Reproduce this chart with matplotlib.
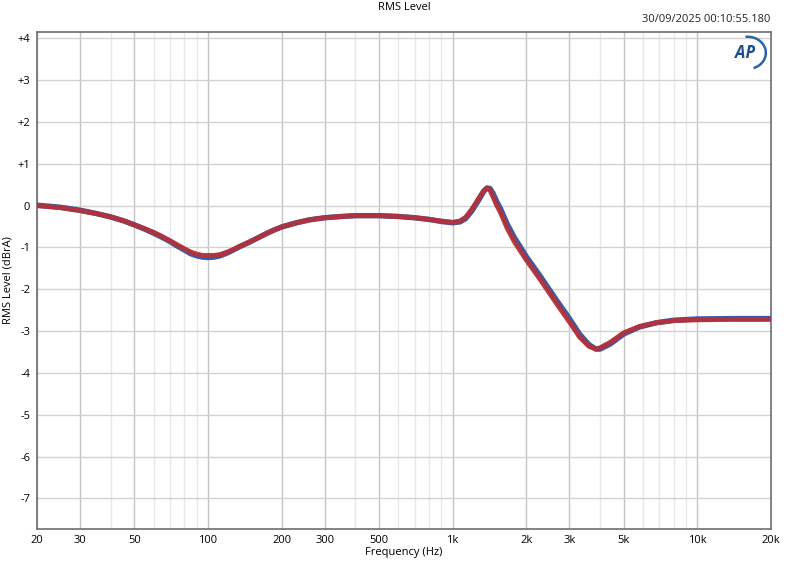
import matplotlib
matplotlib.use("Agg")
from matplotlib import pyplot as plt
from matplotlib.ticker import FixedLocator, NullFormatter
from matplotlib.patches import Arc

freq = [20, 25, 30, 35, 40, 45, 50, 55, 60, 65, 70, 75, 80, 85, 90, 95,
        100, 106, 112, 120, 127, 135, 148, 160, 173, 185, 200, 230, 260, 300,
        350, 400, 500, 600, 700, 800, 900, 1000, 1070, 1130, 1200, 1280,
        1340, 1380, 1420, 1460, 1510, 1570, 1670, 1790, 1900, 2000, 2140,
        2300, 2400, 2650, 3000, 3300, 3600, 3850, 4000, 4400, 5000, 5800,
        6800, 8000, 10000, 14000, 20000]

level_red = [0.00, -0.05, -0.12, -0.19, -0.27, -0.36, -0.46, -0.55, -0.64,
             -0.74, -0.84, -0.94, -1.03, -1.11, -1.16, -1.19, -1.19, -1.19,
             -1.17, -1.11, -1.05, -0.97, -0.87, -0.77, -0.67, -0.59, -0.51,
             -0.41, -0.34, -0.29, -0.26, -0.24, -0.24, -0.26, -0.29, -0.33,
             -0.37, -0.40, -0.37, -0.28, -0.08, 0.18, 0.36, 0.42, 0.37, 0.22,
             0.02, -0.17, -0.54, -0.87, -1.10, -1.30, -1.54, -1.80, -1.96,
             -2.33, -2.78, -3.14, -3.36, -3.43, -3.40, -3.27, -3.04, -2.89,
             -2.80, -2.75, -2.73, -2.72, -2.72]

level_blue = [0.01, -0.04, -0.11, -0.19, -0.27, -0.36, -0.46, -0.56, -0.66,
              -0.76, -0.86, -0.97, -1.06, -1.15, -1.20, -1.23, -1.24, -1.23,
              -1.20, -1.13, -1.06, -0.98, -0.87, -0.77, -0.67, -0.59, -0.51,
              -0.41, -0.34, -0.29, -0.26, -0.24, -0.24, -0.26, -0.29, -0.33,
              -0.38, -0.41, -0.39, -0.31, -0.12, 0.14, 0.34, 0.42, 0.41, 0.30,
              0.11, -0.08, -0.44, -0.77, -1.01, -1.22, -1.46, -1.72, -1.88,
              -2.25, -2.70, -3.07, -3.32, -3.43, -3.43, -3.31, -3.07, -2.90,
              -2.80, -2.74, -2.71, -2.70, -2.70]

major_ticks = [20, 30, 50, 100, 200, 300, 500, 1000, 2000, 3000, 5000, 10000, 20000]
major_labels = ["20", "30", "50", "100", "200", "300", "500", "1k", "2k", "3k", "5k", "10k", "20k"]
minor_ticks = [40, 60, 70, 80, 90, 400, 600, 700, 800, 900,
               4000, 6000, 7000, 8000, 9000]
y_ticks = [-7, -6, -5, -4, -3, -2, -1, 0, 1, 2, 3, 4]
y_labels = ["-7", "-6", "-5", "-4", "-3", "-2", "-1", "0", "+1", "+2", "+3", "+4"]

plt.rcParams["font.family"] = ["Open Sans", "DejaVu Sans"]

fig = plt.figure(figsize=(7.97, 5.61), dpi=100)
ax = fig.add_axes([37 / 797, 1 - 529 / 561, (771 - 37) / 797, (529 - 32) / 561])

ax.plot(freq, level_blue, color="#3b5ba5", linewidth=3.9, solid_capstyle="butt",
        solid_joinstyle="round", zorder=3)
ax.plot(freq, level_red, color="#b3313a", linewidth=3.5, alpha=0.95, solid_capstyle="butt",
        solid_joinstyle="round", zorder=4)

ax.set_xscale("log")
ax.set_xlim(20, 20000)
ax.set_ylim(-7.73, 4.15)

ax.xaxis.set_major_locator(FixedLocator(major_ticks))
ax.set_xticklabels(major_labels)
ax.xaxis.set_minor_locator(FixedLocator(minor_ticks))
ax.xaxis.set_minor_formatter(NullFormatter())
ax.set_yticks(y_ticks)
ax.set_yticklabels(y_labels)

ax.grid(which="major", axis="x", color="#c4c4c4", linewidth=1.0)
ax.grid(which="minor", axis="x", color="#e8e8e8", linewidth=1.0)
ax.grid(which="major", axis="y", color="#d2d2d2", linewidth=1.0)
ax.set_axisbelow(True)

ax.tick_params(which="both", length=0, labelsize=8, colors="#000000")
ax.tick_params(axis="x", pad=4)
ax.tick_params(axis="y", pad=5)
for s in ax.spines.values():
    s.set_color("#6e6e6e")
    s.set_linewidth(1.2)

ax.set_xlabel("Frequency (Hz)", fontsize=8, labelpad=1)
ax.set_ylabel("RMS Level (dBrA)", fontsize=8, labelpad=3)

fig.text(404 / 797, 1 - 7 / 561, "RMS Level", ha="center", va="center", fontsize=8)
fig.text(770 / 797, 1 - 20 / 561, "30/09/2025 00:10:55.180", ha="right", va="center",
         fontsize=8, color="#222222")

# AP logo
ax.text(0.964, 0.958, "AP", transform=ax.transAxes, ha="center", va="center",
        fontsize=12, fontweight="bold", style="italic", color="#1f4e8c")
ax.add_patch(Arc((0.968, 0.958), 0.05, 0.065, theta1=-75, theta2=95,
                 transform=ax.transAxes, color="#2a64a8", linewidth=1.8))

fig.savefig("out.png", dpi=100)
